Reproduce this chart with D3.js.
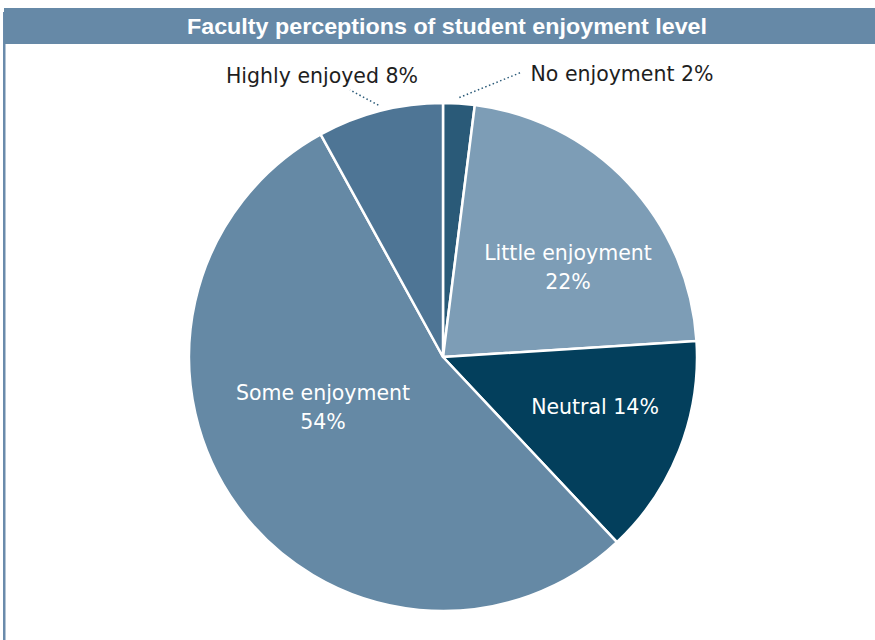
<!DOCTYPE html>
<html><head><meta charset="utf-8">
<script src="https://cdn.jsdelivr.net/npm/d3@7"></script>
<style>body{margin:0;background:#fff}svg{display:block}</style>
</head><body>
<svg id="chart" width="875" height="640"></svg>
<script>
const title = "Faculty perceptions of student enjoyment level";
const categories = ["No enjoyment", "Little enjoyment", "Neutral", "Some enjoyment", "Highly enjoyed"];
const values = [2, 22, 14, 54, 8];
const colors = ["#2a5a78", "#7d9db6", "#033f5c", "#6589a5", "#4e7595"];

const svg = d3.select("#chart");
const W = 875, H = 640;

// frame
svg.append("rect").attr("x", 3).attr("y", 12).attr("width", 2.5).attr("height", H - 12).attr("fill", "#6a8bab");
svg.append("rect").attr("x", 4).attr("y", 8).attr("width", W - 4).attr("height", 36).attr("fill", "#6689a7");
svg.append("text").attr("x", 447).attr("y", 34).attr("text-anchor", "middle")
  .attr("fill", "#fff").attr("font-family", "'Liberation Sans Narrow','Liberation Sans',Arial,sans-serif")
  .attr("font-weight", "bold").attr("font-size", 22)
  .attr("textLength", 520).attr("lengthAdjust", "spacingAndGlyphs")
  .text(title);

const cx = 443, cy = 357, r = 254;
const pie = d3.pie().sort(null).value(d => d)(values);
const arc = d3.arc().innerRadius(0).outerRadius(r);
const g = svg.append("g").attr("transform", `translate(${cx},${cy})`);
g.selectAll("path").data(pie).join("path")
  .attr("d", arc).attr("fill", (d, i) => colors[i])
  .attr("stroke", "#fff").attr("stroke-width", 2.5).attr("stroke-linejoin", "round");

const font = "'DejaVu Sans',sans-serif";
function label(x, y, lines, fill, anchor) {
  const t = svg.append("text").attr("x", x).attr("y", y).attr("text-anchor", anchor || "middle")
    .attr("fill", fill).attr("font-family", font).attr("font-size", 20.5);
  lines.forEach((l, i) => t.append("tspan").attr("x", x).attr("dy", i ? 29 : 0).text(l));
}
// inside labels
label(568, 260, [categories[1], values[1] + "%"], "#fff");
label(595, 414, [categories[2] + " " + values[2] + "%"], "#fff");
label(323, 400, [categories[3], values[3] + "%"], "#fff");
// outside labels
label(322, 83, [categories[4] + " " + values[4] + "%"], "#1e1e1e");
label(622, 81, [categories[0] + " " + values[0] + "%"], "#1e1e1e");

// leader lines derived from slice angles
function leader(d, endX, endY) {
  const a = (d.startAngle + d.endAngle) / 2;
  const x0 = cx + Math.sin(a) * (r + 6), y0 = cy - Math.cos(a) * (r + 6);
  svg.append("line").attr("x1", x0).attr("y1", y0).attr("x2", endX).attr("y2", endY)
    .attr("stroke", "#2a5a78").attr("stroke-width", 1.5).attr("stroke-dasharray", "1.5,2.5");
}
leader(pie[4], 350, 90);
leader(pie[0], 522, 72);
</script>
</body></html>
